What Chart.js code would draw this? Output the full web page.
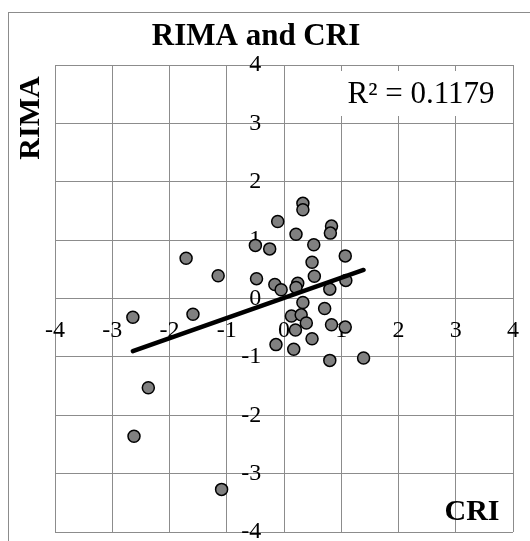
<!DOCTYPE html>
<html>
<head>
<meta charset="utf-8">
<script src="https://cdn.jsdelivr.net/npm/chart.js@4.4.1/dist/chart.umd.min.js"></script>
<style>
  html, body { margin: 0; padding: 0; background: #fff; }
  #wrap { width: 530px; height: 541px; }
</style>
</head>
<body>
<div id="wrap"><canvas id="grafico"></canvas></div>
<script>
// Datos (CRI en x, RIMA en y)
const cri = [0.33, 0.33, -0.11, 0.21, 0.83, 0.81, 0.52, -0.50, -0.25, 1.07,
  0.49, -1.71, -1.15, -0.48, 0.53, -0.16, -0.05, 0.24, 0.21, 0.80,
  1.08, 0.33, 0.71, -1.59, 0.13, 0.30, 0.39, 0.83, 1.07, 0.20,
  0.49, -0.14, 0.17, 0.80, 1.39, -2.64, -2.37, -2.62, -1.09];
const rima = [1.63, 1.52, 1.32, 1.10, 1.24, 1.12, 0.92, 0.91, 0.85, 0.73,
  0.62, 0.69, 0.39, 0.34, 0.38, 0.24, 0.15, 0.26, 0.19, 0.16,
  0.31, -0.07, -0.17, -0.27, -0.30, -0.28, -0.42, -0.45, -0.49, -0.54,
  -0.69, -0.79, -0.87, -1.06, -1.02, -0.32, -1.53, -2.36, -3.27];
const ejeMin = -4;
const ejeMax = 4;
const paso = 1;

const titulo = 'RIMA and CRI';
const tituloX = 'CRI';
const tituloY = 'RIMA';
const etiquetaR2 = 'R\u00b2 = 0.1179';

// Linea de tendencia lineal (minimos cuadrados)
function tendencia(xs, ys) {
  const n = xs.length;
  let sx = 0, sy = 0, sxy = 0, sxx = 0;
  for (let i = 0; i < n; i++) {
    sx += xs[i]; sy += ys[i]; sxy += xs[i] * ys[i]; sxx += xs[i] * xs[i];
  }
  const m = (n * sxy - sx * sy) / (n * sxx - sx * sx);
  const b = (sy - m * sx) / n;
  const x0 = Math.min(...xs), x1 = Math.max(...xs);
  return [{ x: x0, y: m * x0 + b }, { x: x1, y: m * x1 + b }];
}

const puntos = cri.map((x, i) => ({ x: x, y: rima[i] }));
const serif = "'Liberation Serif', 'Times New Roman', serif";

const textos = {
  id: 'textos',
  beforeDraw(chart) {
    const ctx = chart.ctx;
    ctx.save();
    ctx.fillStyle = '#fff';
    ctx.fillRect(0, 0, chart.width, chart.height);
    ctx.strokeStyle = '#8c8c8c';
    ctx.lineWidth = 1;
    ctx.strokeRect(8.5, 12.5, 700, 700);
    ctx.restore();
  },
  beforeDatasetsDraw(chart) {
    const ctx = chart.ctx;
    ctx.save();
    ctx.font = '31px ' + serif;
    const w = ctx.measureText(etiquetaR2).width;
    ctx.fillStyle = '#fff';
    ctx.fillRect(421 - w / 2 - 8, 71, w + 16, 45);
    ctx.fillStyle = '#000';
    ctx.textAlign = 'center';
    ctx.textBaseline = 'middle';
    ctx.fillText(etiquetaR2, 421, 95);
    ctx.restore();
  },
  afterDraw(chart) {
    const ctx = chart.ctx;
    ctx.save();
    ctx.fillStyle = '#000';
    ctx.textAlign = 'center';
    ctx.textBaseline = 'middle';
    ctx.font = 'bold 31px ' + serif;
    ctx.fillText(titulo, 256, 37);
    ctx.font = 'bold 30px ' + serif;
    ctx.fillText(tituloX, 472, 512);
    ctx.translate(31, 118);
    ctx.rotate(-Math.PI / 2);
    ctx.fillText(tituloY, 0, 0);
    ctx.restore();
  }
};

const fuenteTicks = { family: serif, size: 24 };

// los ejes centrados no deben quitar espacio al area del grafico
function sinEspacio(s) {
  if (s.isHorizontal()) s.height = 0; else s.width = 0;
  s.paddingTop = 0; s.paddingBottom = 0; s.paddingLeft = 0; s.paddingRight = 0;
}

new Chart(document.getElementById('grafico'), {
  type: 'scatter',
  data: {
    datasets: [
      {
        type: 'line',
        label: 'Tendencia',
        data: tendencia(cri, rima),
        borderColor: '#000',
        borderWidth: 4.5,
        borderCapStyle: 'round',
        pointRadius: 0,
        fill: false
      },
      {
        label: 'RIMA',
        data: puntos,
        backgroundColor: '#808080',
        borderColor: '#000',
        borderWidth: 1.5,
        pointRadius: 6
      }
    ]
  },
  options: {
    responsive: true,
    maintainAspectRatio: false,
    animation: false,
    layout: { padding: { left: 55, top: 65, right: 17, bottom: 9 } },
    plugins: {
      legend: { display: false },
      title: { display: false },
      tooltip: { enabled: false }
    },
    scales: {
      x: {
        type: 'linear',
        min: ejeMin,
        max: ejeMax,
        position: { y: 0 },
        afterFit: sinEspacio,
        grid: { color: '#8c8c8c', lineWidth: 1, drawTicks: false },
        border: { display: false },
        ticks: { stepSize: paso, color: '#000', font: fuenteTicks, padding: 18, maxRotation: 0 }
      },
      y: {
        type: 'linear',
        min: ejeMin,
        max: ejeMax,
        position: { x: 0 },
        afterFit: sinEspacio,
        grid: { color: '#8c8c8c', lineWidth: 1, drawTicks: false },
        border: { display: false },
        ticks: { stepSize: paso, color: '#000', font: fuenteTicks, callback: v => v + '   \u2009' }
      }
    }
  },
  plugins: [textos]
});
</script>
</body>
</html>
